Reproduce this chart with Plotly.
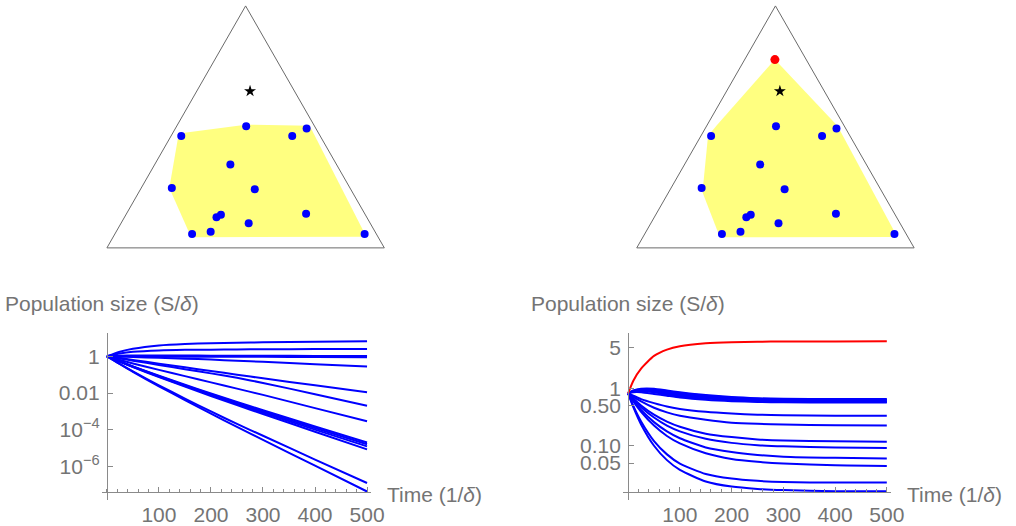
import plotly.graph_objects as go

W, H = 1016, 526

# ---------------- Triangle (simplex) panels: coordinates in unit-side frame ----------------
tri_u = [0.0, 1.0, 0.5, 0.0]
tri_v = [0.0, 0.0, 0.866, 0.0]

pts_u = [0.268, 0.502, 0.668, 0.720, 0.445, 0.234, 0.533, 0.395, 0.411, 0.511, 0.718, 0.307, 0.374, 0.929]
pts_v = [0.400, 0.435, 0.400, 0.427, 0.298, 0.214, 0.210, 0.110, 0.119, 0.088, 0.122, 0.050, 0.058, 0.050]

star_u, star_v = [0.516], [0.561]
red_u, red_v = [0.498], [0.674]

hullL_u = [0.259, 0.500, 0.731, 0.932, 0.929, 0.318, 0.295, 0.225, 0.259]
hullL_v = [0.409, 0.441, 0.437, 0.046, 0.040, 0.038, 0.058, 0.214, 0.409]

hullR_u = [0.498, 0.724, 0.936, 0.929, 0.305, 0.297, 0.237, 0.257, 0.291, 0.498]
hullR_v = [0.674, 0.436, 0.045, 0.039, 0.038, 0.045, 0.199, 0.401, 0.442, 0.674]

# ---------------- Time series (log10 of population size) ----------------
tL = [0, 25, 50, 100, 150, 200, 250, 300, 400, 500]
left_log10 = [
    [0, 0.25, 0.41, 0.59, 0.67, 0.71, 0.74, 0.76, 0.79, 0.81],
    [0, 0.15, 0.24, 0.32, 0.35, 0.36, 0.37, 0.38, 0.39, 0.39],
    [0, 0.03, 0.04, 0.04, 0.04, 0.03, 0.03, 0.03, 0.02, 0.02],
    [0, 0.00, -0.01, -0.02, -0.02, -0.03, -0.03, -0.03, -0.04, -0.05],
    [0, -0.02, -0.04, -0.08, -0.13, -0.18, -0.24, -0.30, -0.43, -0.56],
    [0, -0.10, -0.20, -0.40, -0.60, -0.80, -1.00, -1.20, -1.58, -1.95],
    [0, -0.12, -0.24, -0.47, -0.70, -0.93, -1.17, -1.45, -2.06, -2.69],
    [0, -0.20, -0.39, -0.74, -1.08, -1.42, -1.76, -2.10, -2.82, -3.53],
    [0, -0.28, -0.55, -1.06, -1.55, -2.02, -2.48, -2.93, -3.82, -4.69],
    [0, -0.28, -0.56, -1.08, -1.58, -2.06, -2.53, -2.99, -3.90, -4.78],
    [0, -0.29, -0.57, -1.10, -1.61, -2.10, -2.58, -3.06, -3.99, -4.90],
    [0, -0.30, -0.59, -1.13, -1.65, -2.16, -2.65, -3.14, -4.10, -5.06],
    [0, -0.42, -0.82, -1.58, -2.30, -3.00, -3.68, -4.32, -5.62, -6.89],
    [0, -0.43, -0.85, -1.63, -2.38, -3.12, -3.84, -4.54, -5.95, -7.35],
]

tR = [0, 10, 25, 50, 75, 100, 150, 200, 250, 300, 400, 500]
red_log10 = [-0.09, 0.13, 0.34, 0.56, 0.67, 0.73, 0.78, 0.80, 0.807, 0.81, 0.813, 0.814]
right_log10 = [
    [-0.09, -0.04, -0.01, -0.01, -0.04, -0.07, -0.12, -0.155, -0.175, -0.185, -0.19, -0.19],
    [-0.09, -0.05, -0.02, -0.03, -0.06, -0.09, -0.13, -0.165, -0.185, -0.195, -0.20, -0.20],
    [-0.09, -0.05, -0.03, -0.04, -0.07, -0.10, -0.15, -0.18, -0.20, -0.21, -0.215, -0.215],
    [-0.09, -0.06, -0.04, -0.06, -0.09, -0.12, -0.16, -0.19, -0.21, -0.22, -0.228, -0.23],
    [-0.09, -0.06, -0.05, -0.07, -0.11, -0.14, -0.18, -0.21, -0.225, -0.235, -0.24, -0.24],
    [-0.09, -0.07, -0.07, -0.10, -0.13, -0.16, -0.20, -0.225, -0.24, -0.245, -0.25, -0.25],
    [-0.09, -0.13, -0.19, -0.26, -0.32, -0.36, -0.41, -0.44, -0.46, -0.47, -0.478, -0.48],
    [-0.09, -0.15, -0.23, -0.34, -0.42, -0.48, -0.55, -0.60, -0.62, -0.63, -0.645, -0.65],
    [-0.09, -0.18, -0.30, -0.46, -0.58, -0.67, -0.79, -0.85, -0.89, -0.91, -0.92, -0.93],
    [-0.09, -0.20, -0.33, -0.51, -0.65, -0.75, -0.88, -0.95, -0.99, -1.01, -1.03, -1.04],
    [-0.09, -0.22, -0.38, -0.59, -0.75, -0.87, -1.03, -1.11, -1.16, -1.19, -1.21, -1.22],
    [-0.09, -0.23, -0.41, -0.65, -0.83, -0.96, -1.13, -1.23, -1.28, -1.31, -1.34, -1.35],
    [-0.09, -0.31, -0.58, -0.92, -1.15, -1.31, -1.49, -1.57, -1.61, -1.63, -1.64, -1.64],
    [-0.09, -0.33, -0.63, -1.00, -1.25, -1.42, -1.62, -1.71, -1.75, -1.77, -1.79, -1.79],
]

left_tickvals = [1, 0.01, 1e-4, 1e-6]
left_ticktext = ["1", "0.01", "10<sup>\u22124</sup>", "10<sup>\u22126</sup>"]
right_tickvals = [5, 1, 0.5, 0.1, 0.05]
right_ticktext = ["5", "1", "0.50", "0.10", "0.05"]
x_tickvals = [100, 200, 300, 400, 500]

# ---------------- Styling ----------------
FONT = "Liberation Sans, Arial, sans-serif"
FS = 21
TXT = "#747474"
AX = "#8a8a8a"
BLUE = "rgb(0,0,255)"
RED = "rgb(255,0,0)"
YEL = "rgb(255,255,128)"


def px_x(p):
    return p / W


def px_y(p):
    return 1 - p / H


fig = go.Figure()

# triangle panels
for k, (hu, hv) in enumerate([(hullL_u, hullL_v), (hullR_u, hullR_v)]):
    xa = "x" if k == 0 else "x2"
    ya = "y" if k == 0 else "y2"
    fig.add_trace(go.Scatter(x=hu, y=hv, mode="lines", fill="toself", fillcolor=YEL,
                             line=dict(width=0, color=YEL), xaxis=xa, yaxis=ya, hoverinfo="skip"))
    fig.add_trace(go.Scatter(x=tri_u, y=tri_v, mode="lines", line=dict(color="#6a6a6a", width=1),
                             xaxis=xa, yaxis=ya, hoverinfo="skip"))
    fig.add_trace(go.Scatter(x=pts_u, y=pts_v, mode="markers",
                             marker=dict(color=BLUE, size=8, line=dict(width=0)),
                             xaxis=xa, yaxis=ya))
    fig.add_trace(go.Scatter(x=star_u, y=star_v, mode="markers",
                             marker=dict(color="black", size=9, symbol="star", line=dict(width=0)),
                             xaxis=xa, yaxis=ya))
    if k == 1:
        fig.add_trace(go.Scatter(x=red_u, y=red_v, mode="markers",
                                 marker=dict(color=RED, size=9, line=dict(width=0)),
                                 xaxis=xa, yaxis=ya))

# left time series
for s in left_log10:
    fig.add_trace(go.Scatter(x=tL, y=[10 ** v for v in s], mode="lines",
                             line=dict(color=BLUE, width=2, shape="spline", smoothing=0.6),
                             xaxis="x3", yaxis="y3"))
# right time series
for s in right_log10:
    fig.add_trace(go.Scatter(x=tR, y=[10 ** v for v in s], mode="lines",
                             line=dict(color=BLUE, width=2, shape="spline", smoothing=0.6),
                             xaxis="x4", yaxis="y4"))
fig.add_trace(go.Scatter(x=tR, y=[10 ** v for v in red_log10], mode="lines",
                         line=dict(color=RED, width=2, shape="spline", smoothing=0.6),
                         xaxis="x4", yaxis="y4"))

hidden = dict(visible=False, showgrid=False, zeroline=False, fixedrange=True)

# triangle axis geometry: unit side = 281 px
pad_u = 0.03
tri_scale = 281.0


def tri_axes(x0px):
    left = x0px - pad_u * tri_scale
    right = x0px + tri_scale + pad_u * tri_scale
    return [px_x(left), px_x(right)]


yb = 249.3 + pad_u * tri_scale
yt = 249.3 - (0.878) * tri_scale
tri_ydom = [px_y(yb), px_y(yt)]

common_ts_x = dict(
    showgrid=False, zeroline=False, showline=True, linecolor=AX, linewidth=1,
    ticks="inside", ticklen=5, tickcolor=AX, tickwidth=1,
    tickvals=x_tickvals, ticktext=[str(v) for v in x_tickvals],
    tickfont=dict(family=FONT, size=FS, color=TXT), ticklabelstandoff=4,
    minor=dict(ticks="inside", ticklen=3, tickcolor=AX, dtick=20, tick0=0, showgrid=False),
    range=[-10, 508], anchor="free", position=px_y(495),
)


def ts_y(rng, dom, pos, vals, text):
    return dict(type="log", range=rng, domain=dom, anchor="free", position=pos,
                showgrid=False, zeroline=False, showline=True, linecolor=AX, linewidth=1,
                ticks="inside", ticklen=5, tickcolor=AX, tickvals=vals, ticktext=text,
                ticklabelstandoff=3, tickfont=dict(family=FONT, size=FS, color=TXT))


fig.update_layout(
    width=W, height=H, autosize=False, margin=dict(l=0, r=0, t=0, b=0),
    paper_bgcolor="white", plot_bgcolor="rgba(0,0,0,0)", showlegend=False,
    xaxis=dict(hidden, domain=tri_axes(108.3), range=[-pad_u, 1 + pad_u]),
    yaxis=dict(hidden, domain=tri_ydom, range=[-pad_u, 0.878]),
    xaxis2=dict(hidden, domain=tri_axes(645.0), range=[-pad_u, 1 + pad_u]),
    yaxis2=dict(hidden, domain=tri_ydom, range=[-pad_u, 0.878]),
    xaxis3=dict(common_ts_x, domain=[px_x(108.3 - 10 * 0.527), px_x(108.3 + 508 * 0.527)]),
    yaxis3=ts_y([-7.82, 1.26], [px_y(503), px_y(335)], px_x(108.3), left_tickvals, left_ticktext),
    xaxis4=dict(common_ts_x, domain=[px_x(636.3 - 10 * 0.524), px_x(636.3 + 508 * 0.524)]),
    yaxis4=ts_y([-1.95, 0.957], [px_y(503.3), px_y(335)], px_x(636.3), right_tickvals, right_ticktext),
)

ann_font = dict(family=FONT, size=FS, color=TXT)
for xl, xr in [(3, 390), (536, 917)]:
    fig.add_annotation(text="Population size (S/<i>\u03b4</i>)", xref="paper", yref="paper",
                       x=px_x(xl), y=px_y(305), xanchor="left", yanchor="middle",
                       showarrow=False, font=ann_font)
    fig.add_annotation(text="Time (1/<i>\u03b4</i>)", xref="paper", yref="paper",
                       x=px_x(xr), y=px_y(497), xanchor="left", yanchor="middle",
                       showarrow=False, font=ann_font)

post = (
    "document.body.style.margin='0';"
    "document.body.style.padding='0';"
    "document.body.style.overflow='hidden';"
    "document.documentElement.style.overflow='hidden';"
)
fig.write_html("out.html", post_script=post,
               config={"displayModeBar": False, "responsive": False})
